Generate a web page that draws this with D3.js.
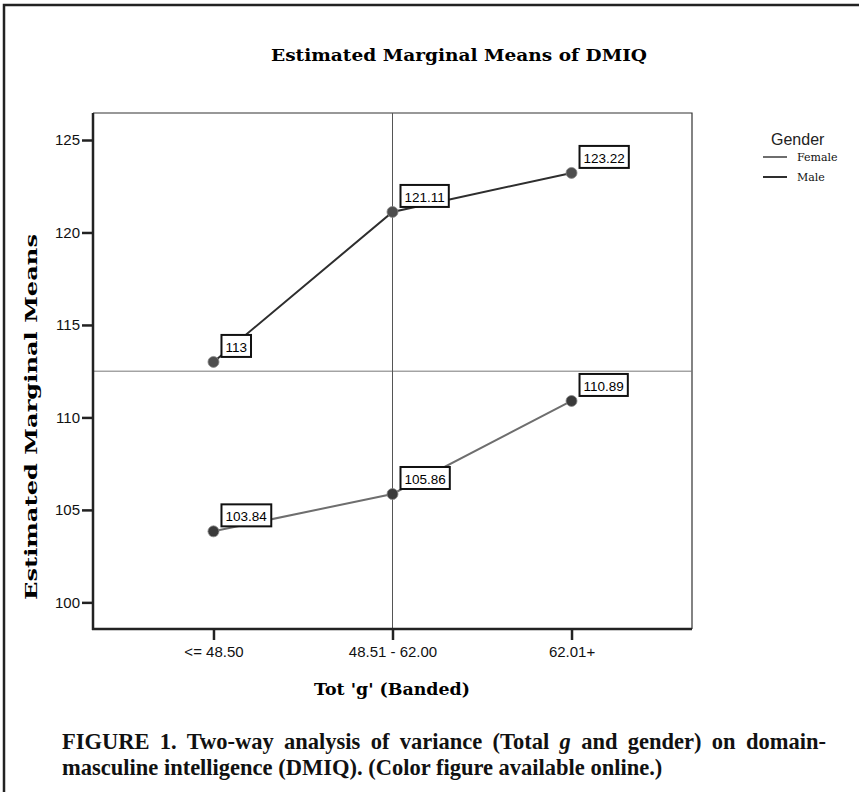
<!DOCTYPE html>
<html>
<head>
<meta charset="utf-8">
<script src="https://cdn.jsdelivr.net/npm/d3@7"></script>
<style>
  body { margin: 0; background: #fff; }
</style>
</head>
<body>
<div id="chart"></div>
<script>
const categories = ['<= 48.50', '48.51 - 62.00', '62.01+'];
const genders = ['Female', 'Male'];
const femaleMeans = [103.84, 105.86, 110.89];
const maleMeans = [113, 121.11, 123.22];
const femaleLabels = ['103.84', '105.86', '110.89'];
const maleLabels = ['113', '121.11', '123.22'];
const yTicks = [100, 105, 110, 115, 120, 125];
const refMean = 112.5;

const size = { width: 859, height: 792 };
const margin = { left: 93, top: 113, right: 167, bottom: 163 };

const svg = d3
  .select('#chart')
  .append('svg')
  .attr('width', size.width)
  .attr('height', size.height);

// page frame (only top/left visible in the crop)
svg
  .append('path')
  .attr('d', `M4,${size.height + 5}V5H${size.width + 5}`)
  .attr('fill', 'none')
  .attr('stroke', '#222')
  .attr('stroke-width', 2.5);

const x = d3
  .scalePoint()
  .domain(categories)
  .range([margin.left, size.width - margin.right])
  .padding(0.673);

const y = d3
  .scaleLinear()
  .domain([98.56, 126.46])
  .range([size.height - margin.bottom, margin.top]);

const plotL = margin.left;
const plotR = size.width - margin.right;
const plotT = margin.top;
const plotB = size.height - margin.bottom;

// frame top/right
svg
  .append('path')
  .attr('d', `M${plotL},${plotT}H${plotR}V${plotB}`)
  .attr('fill', 'none')
  .attr('stroke', '#333')
  .attr('stroke-width', 1.2);

// reference lines
svg
  .append('line')
  .attr('x1', plotL)
  .attr('x2', plotR)
  .attr('y1', y(refMean))
  .attr('y2', y(refMean))
  .attr('stroke', '#777')
  .attr('stroke-width', 1);

svg
  .append('line')
  .attr('x1', x(categories[1]))
  .attr('x2', x(categories[1]))
  .attr('y1', plotT)
  .attr('y2', plotB)
  .attr('stroke', '#555')
  .attr('stroke-width', 1);

// axes
const yAxis = svg
  .append('g')
  .attr('transform', `translate(${plotL},0)`)
  .call(d3.axisLeft(y).tickValues(yTicks).tickSize(11).tickPadding(2).tickSizeOuter(0));

const xAxis = svg
  .append('g')
  .attr('transform', `translate(0,${plotB})`)
  .call(d3.axisBottom(x).tickSize(11).tickPadding(6).tickSizeOuter(0));

[yAxis, xAxis].forEach((g) => {
  g.select('.domain').attr('stroke', '#222').attr('stroke-width', 2.5);
  g.selectAll('.tick line').attr('stroke', '#222').attr('stroke-width', 2.5);
  g.selectAll('.tick text')
    .attr('fill', '#111')
    .style('font-family', 'Liberation Sans, Arial, sans-serif')
    .style('font-size', '15px');
});
// extend domain lines to the frame corner
yAxis.select('.domain').attr('d', `M0,${plotT}V${plotB + 1}`);
xAxis.select('.domain').attr('d', `M${plotL - 1},0H${plotR}`);

// series
const series = [
  { name: 'Female', values: femaleMeans, labels: femaleLabels, line: '#6e6e6e', dot: '#3a3a3a' },
  { name: 'Male', values: maleMeans, labels: maleLabels, line: '#2e2e2e', dot: '#4e4e4e' },
];

const line = d3
  .line()
  .x((d, i) => x(categories[i]))
  .y((d) => y(d));

series.forEach((s) => {
  svg
    .append('path')
    .datum(s.values)
    .attr('d', line)
    .attr('fill', 'none')
    .attr('stroke', s.line)
    .attr('stroke-width', 2);

  svg
    .selectAll(null)
    .data(s.values)
    .enter()
    .append('circle')
    .attr('cx', (d, i) => x(categories[i]))
    .attr('cy', (d) => y(d))
    .attr('r', 5.5)
    .attr('fill', s.dot)
    .attr('stroke', '#888')
    .attr('stroke-width', 0.8);
});

// value labels
series.forEach((s) => {
  s.values.forEach((v, i) => {
    const px = x(categories[i]);
    const py = y(v);
    const g = svg.append('g');
    const t = g
      .append('text')
      .attr('x', px + 12)
      .attr('y', py - 10)
      .attr('fill', '#000')
      .style('font-family', 'Liberation Sans, Arial, sans-serif')
      .style('font-size', '13.5px')
      .text(s.labels[i]);
    const bb = t.node().getBBox();
    g.insert('rect', 'text')
      .attr('x', px + 8)
      .attr('y', py - 27)
      .attr('width', bb.width + 8)
      .attr('height', 22)
      .attr('fill', '#fff')
      .attr('stroke', '#111')
      .attr('stroke-width', 2);
  });
});

// titles
svg
  .append('text')
  .attr('x', 459)
  .attr('y', 61)
  .attr('text-anchor', 'middle')
  .attr('textLength', 376)
  .attr('lengthAdjust', 'spacingAndGlyphs')
  .style('font-family', 'DejaVu Serif, serif')
  .style('font-weight', 'bold')
  .style('font-size', '17px')
  .text('Estimated Marginal Means of DMIQ');

svg
  .append('text')
  .attr('x', 392)
  .attr('y', 695)
  .attr('text-anchor', 'middle')
  .attr('textLength', 156)
  .attr('lengthAdjust', 'spacingAndGlyphs')
  .style('font-family', 'DejaVu Serif, serif')
  .style('font-weight', 'bold')
  .style('font-size', '17px')
  .text("Tot 'g' (Banded)");

svg
  .append('text')
  .attr('transform', `translate(37,${(plotT + plotB) / 2 + 46}) rotate(-90)`)
  .attr('text-anchor', 'middle')
  .attr('textLength', 366)
  .attr('lengthAdjust', 'spacingAndGlyphs')
  .style('font-family', 'DejaVu Serif, serif')
  .style('font-weight', 'bold')
  .style('font-size', '17px')
  .text('Estimated Marginal Means');

// legend
const legend = svg.append('g');
legend
  .append('text')
  .attr('x', 771)
  .attr('y', 145)
  .style('font-family', 'Liberation Sans, Arial, sans-serif')
  .style('font-size', '16px')
  .attr('fill', '#222')
  .text('Gender');

genders.forEach((gname, i) => {
  const s = series.find((d) => d.name === gname);
  const ly = 157 + i * 20;
  legend
    .append('line')
    .attr('x1', 763)
    .attr('x2', 787)
    .attr('y1', ly)
    .attr('y2', ly)
    .attr('stroke', s.line)
    .attr('stroke-width', 2);
  legend
    .append('text')
    .attr('x', 797)
    .attr('y', ly + 4)
    .style('font-family', 'DejaVu Serif, serif')
    .style('font-size', '11px')
    .attr('fill', '#111')
    .text(gname);
});

// caption: bold serif, first line justified
const captionLines = [
  ['FIGURE 1. Two-way analysis of variance (Total ', 'g', ' and gender) on domain-'],
  ['masculine intelligence (DMIQ). (Color figure available online.)'],
];
const justifyTo = 764;

captionLines.forEach((parts, i) => {
  const t = svg
    .append('text')
    .attr('x', 62)
    .attr('y', 749 + i * 26)
    .style('font-family', 'Liberation Serif, Times New Roman, serif')
    .style('font-weight', 'bold')
    .style('font-size', '22.5px')
    .attr('fill', '#111');
  parts.forEach((p, j) => {
    t.append('tspan')
      .style('font-style', j === 1 ? 'italic' : 'normal')
      .text(p);
  });
  if (i === 0) {
    const w = t.node().getComputedTextLength();
    const gaps = parts.join('').split(' ').length - 1;
    const extra = (justifyTo - w) / gaps;
    t.style('word-spacing', `${Math.max(0, extra)}px`);
  }
});
</script>
</body>
</html>
